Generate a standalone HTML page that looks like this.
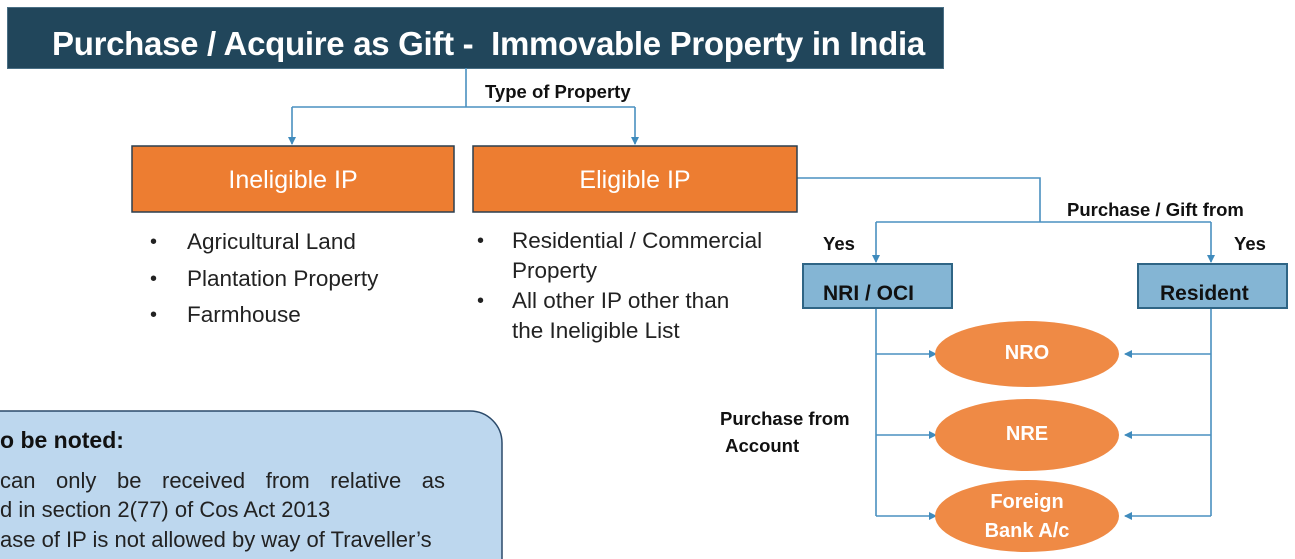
<!DOCTYPE html>
<html><head><style>
body{margin:0;width:1295px;height:559px;overflow:hidden;background:#fff;font-family:"Liberation Sans",sans-serif;position:relative}
.a{position:absolute;white-space:nowrap}
.b{font-weight:bold;font-size:18.5px;color:#111}
.li{font-size:22.5px;color:#222}
</style></head><body>
<div class="a" style="left:7px;top:7px;width:935px;height:60px;background:#21465b;border:1px solid #4a6f85"></div>
<div class="a" style="left:52px;top:25px;color:#fff;font-weight:bold;font-size:33px;letter-spacing:-0.3px">Purchase / Acquire as Gift -&nbsp; Immovable Property in India</div>

<svg class="a" style="left:0;top:0" width="1295" height="559">
<defs><marker id="m" markerWidth="8" markerHeight="8" refX="7" refY="4" orient="auto" markerUnits="userSpaceOnUse"><path d="M0,0L8,4L0,8z" fill="#3f8bbd"/></marker></defs>
<g stroke="#4a90c0" stroke-width="1.6" fill="none">
<path d="M466,68V107"/><path d="M292,107H635"/>
<path d="M292,107V144" marker-end="url(#m)"/><path d="M635,107V144" marker-end="url(#m)"/>
<path d="M797,178H1040V222"/><path d="M876,222H1211"/>
<path d="M876,222V262" marker-end="url(#m)"/><path d="M1211,222V262" marker-end="url(#m)"/>
<path d="M876,308V516"/><path d="M1211,308V516"/>
<path d="M876,354H936" marker-end="url(#m)"/><path d="M876,435H936" marker-end="url(#m)"/><path d="M876,516H936" marker-end="url(#m)"/>
<path d="M1211,354H1125" marker-end="url(#m)"/><path d="M1211,435H1125" marker-end="url(#m)"/><path d="M1211,516H1125" marker-end="url(#m)"/>
</g>
<rect x="132" y="146" width="322" height="66" fill="#ed7d31" stroke="#2b3f4f" stroke-width="1.5"/>
<rect x="473" y="146" width="324" height="66" fill="#ed7d31" stroke="#2b3f4f" stroke-width="1.5"/>
<rect x="803" y="264" width="149" height="44" fill="#84b5d4" stroke="#2f6585" stroke-width="2"/>
<rect x="1138" y="264" width="149" height="44" fill="#84b5d4" stroke="#2f6585" stroke-width="2"/>
<ellipse cx="1027" cy="354" rx="92" ry="33" fill="#ef8a45"/>
<ellipse cx="1027" cy="435" rx="92" ry="36" fill="#ef8a45"/>
<ellipse cx="1027" cy="516" rx="92" ry="36" fill="#ef8a45"/>
<rect x="-40" y="411" width="542" height="200" rx="32" fill="#bdd7ee" stroke="#2b4a6a" stroke-width="1.5"/>
</svg>

<div class="a" style="left:132px;top:166px;width:322px;text-align:center;color:#fff;font-size:25px">Ineligible IP</div>
<div class="a" style="left:473px;top:166px;width:324px;text-align:center;color:#fff;font-size:25px">Eligible IP</div>
<div class="a b" style="left:485px;top:81px">Type of Property</div>
<div class="a b" style="left:1067px;top:199px">Purchase / Gift from</div>
<div class="a b" style="left:823px;top:233px">Yes</div>
<div class="a b" style="left:1234px;top:233px">Yes</div>
<div class="a" style="left:823px;top:282px;font-weight:bold;font-size:21px;color:#111">NRI / OCI</div>
<div class="a" style="left:1160px;top:282px;font-weight:bold;font-size:21px;color:#111">Resident</div>
<div class="a" style="left:935px;top:342px;width:184px;text-align:center;color:#fff;font-weight:bold;font-size:20px">NRO</div>
<div class="a" style="left:935px;top:423px;width:184px;text-align:center;color:#fff;font-weight:bold;font-size:20px">NRE</div>
<div class="a" style="left:935px;top:488px;width:184px;text-align:center;color:#fff;font-weight:bold;font-size:20px;line-height:29px">Foreign<br>Bank A/c</div>
<div class="a b" style="left:720px;top:405px;line-height:27px">Purchase from<br>&nbsp;Account</div>

<div class="a li" style="left:150px;top:224px;line-height:36.5px;font-size:20px">•<br>•<br>•</div>
<div class="a li" style="left:187px;top:224px;line-height:36.5px">Agricultural Land<br>Plantation Property<br>Farmhouse</div>
<div class="a li" style="left:477px;top:226px;line-height:30px;font-size:20px">•<br><br>•</div>
<div class="a li" style="left:512px;top:226px;line-height:30px">Residential / Commercial<br>Property<br>All other IP other than<br>the Ineligible List</div>

<div class="a" style="left:0;top:427px;font-weight:bold;font-size:23px;color:#111">o be noted:</div>
<div class="a" style="left:0;top:466px;font-size:22px;color:#222;line-height:29.5px;width:445px;white-space:normal;text-align:justify;text-align-last:justify">can only be received from relative as</div>
<div class="a" style="left:0;top:495px;font-size:22px;color:#222;line-height:29.5px">d in section 2(77) of Cos Act 2013<br>ase of IP is not allowed by way of Traveller’s</div>
</body></html>
